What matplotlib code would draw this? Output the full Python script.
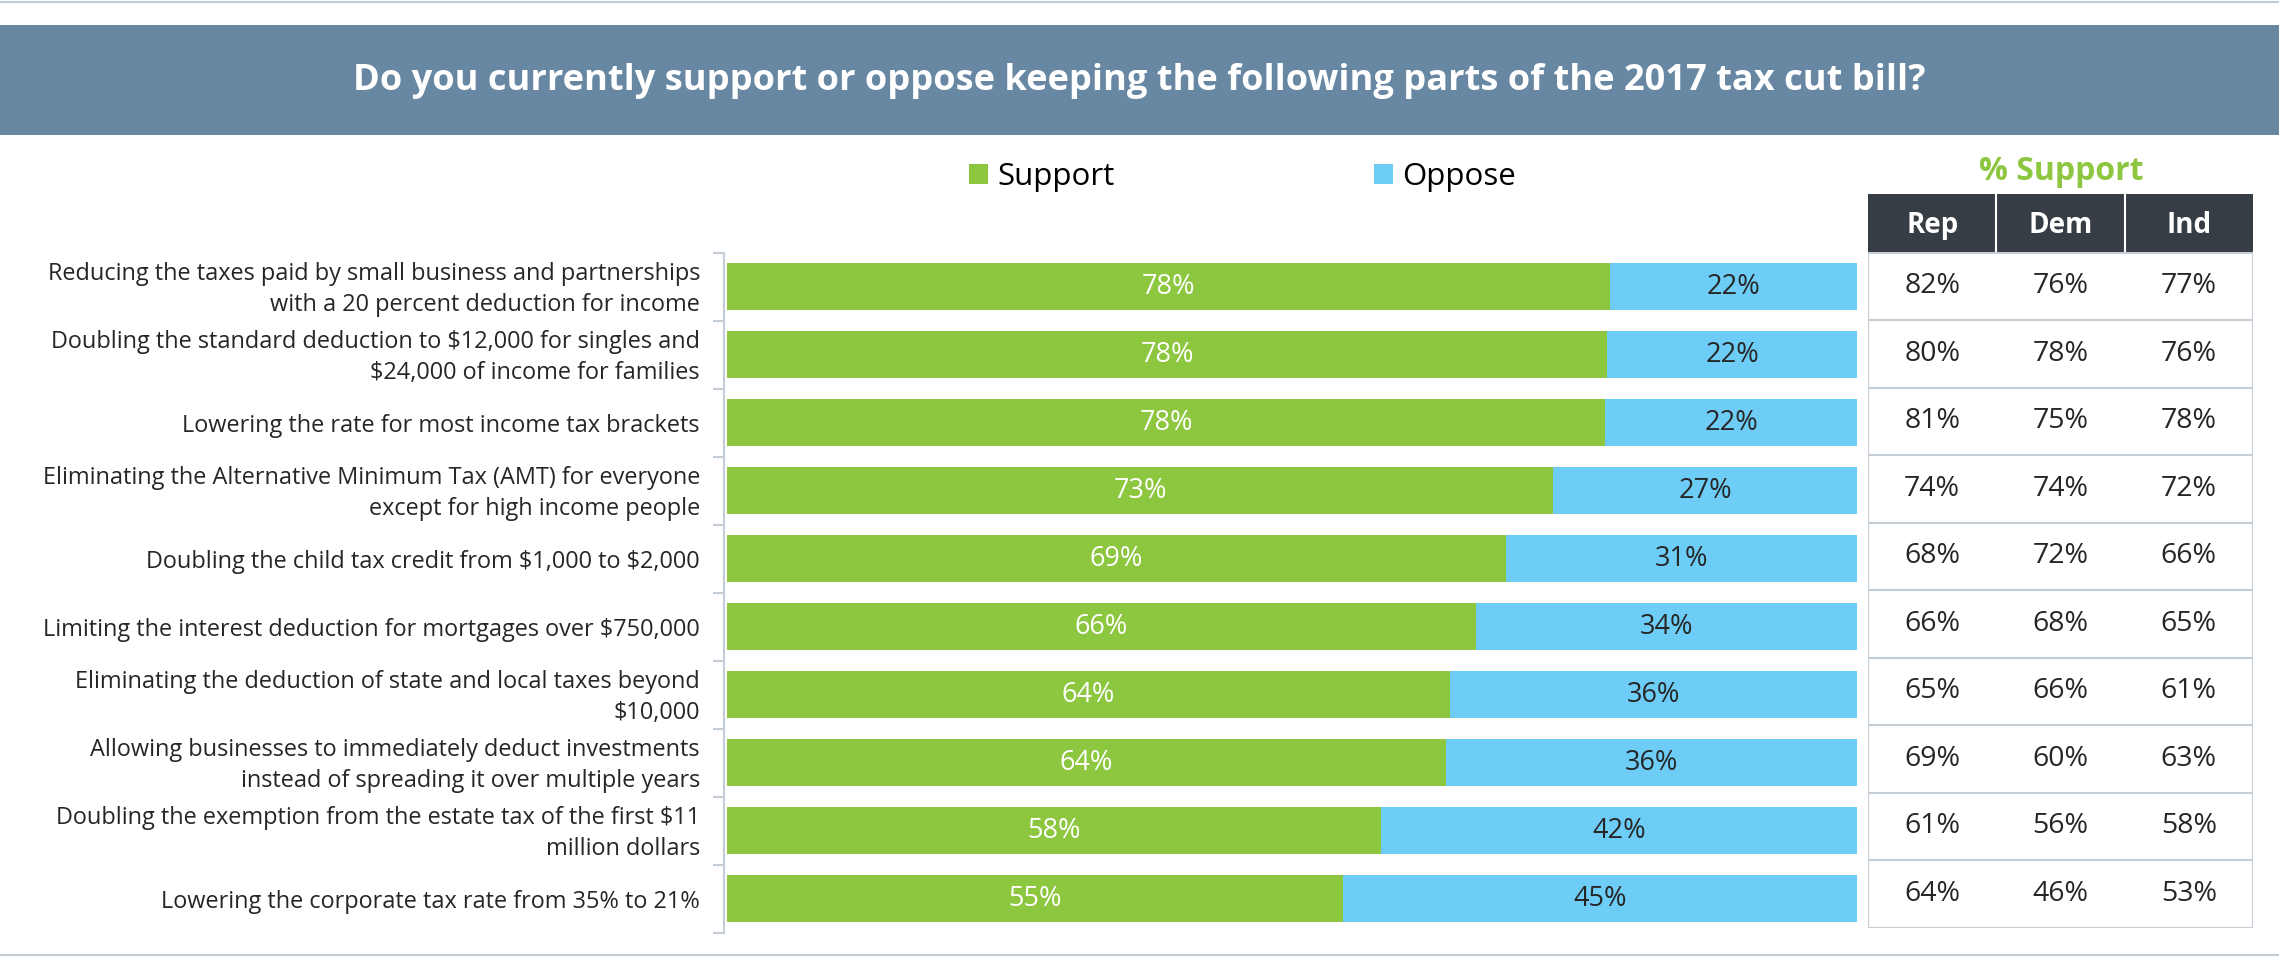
import matplotlib.pyplot as plt
from matplotlib.patches import Rectangle
from matplotlib.lines import Line2D
from matplotlib.transforms import blended_transform_factory, offset_copy

plt.rcParams['font.family'] = ['Open Sans', 'DejaVu Sans']

# data
items = [
    'Reducing the taxes paid by small business and partnerships\nwith a 20 percent deduction for income',
    'Doubling the standard deduction to \\$12,000 for singles and\n\\$24,000 of income for families',
    'Lowering the rate for most income tax brackets',
    'Eliminating the Alternative Minimum Tax (AMT) for everyone\nexcept for high income people',
    'Doubling the child tax credit from \\$1,000 to \\$2,000',
    'Limiting the interest deduction for mortgages over \\$750,000',
    'Eliminating the deduction of state and local taxes beyond\n\\$10,000',
    'Allowing businesses to immediately deduct investments\ninstead of spreading it over multiple years',
    'Doubling the exemption from the estate tax of the first \\$11\nmillion dollars',
    'Lowering the corporate tax rate from 35% to 21%',
]
support = [78.1, 77.9, 77.7, 73.1, 68.9, 66.3, 64.0, 63.6, 57.9, 54.5]
oppose = [21.9, 22.1, 22.3, 26.9, 31.1, 33.7, 36.0, 36.4, 42.1, 45.5]
support_lbl = [78, 78, 78, 73, 69, 66, 64, 64, 58, 55]
oppose_lbl = [22, 22, 22, 27, 31, 34, 36, 36, 42, 45]

parties = ['Rep', 'Dem', 'Ind']
rep = [82, 80, 81, 74, 68, 66, 65, 69, 61, 64]
dem = [76, 78, 75, 74, 72, 68, 66, 60, 56, 46]
ind = [77, 76, 78, 72, 66, 65, 61, 63, 58, 53]

title = 'Do you currently support or oppose keeping the following parts of the 2017 tax cut bill?'

GREEN = '#8DC63F'
BLUE = '#6DCDF6'
BANNER = '#6787A2'
DARK = '#363D45'
TXT = '#262626'
GRID = '#C5CED6'

W, H = 2279, 958
fig = plt.figure(figsize=(W/100, H/100), dpi=100, facecolor='white')

def fx(px):
    return px / W

def fy(py):
    return 1 - py / H

# banner + title
fig.patches.append(Rectangle((0, fy(135)), 1, 110/H, transform=fig.transFigure,
                             facecolor=BANNER, edgecolor='none'))
fig.text(0.5, fy(81), title, color='white', fontsize=26.1, fontweight='bold',
         ha='center', va='center')
fig.add_artist(Line2D([0, 1], [fy(2), fy(2)], color='#C3CDD6', lw=1.5))
fig.add_artist(Line2D([0, 1], [fy(955), fy(955)], color='#C3CDD6', lw=1.5))

# stacked bars
ax = fig.add_axes([fx(727), fy(932.5), 1130/W, 680/H])
y = list(range(len(items)))
b1 = ax.barh(y, support, height=0.685, color=GREEN, label='Support')
b2 = ax.barh(y, oppose, left=support, height=0.685, color=BLUE, label='Oppose')
for i in y:
    ax.text(support[i] / 2, i, f'{support_lbl[i]}%', color='white', fontsize=19.5,
            ha='center', va='center')
    ax.text(support[i] + oppose[i] / 2, i, f'{oppose_lbl[i]}%', color=TXT, fontsize=19.5,
            ha='center', va='center')

# category labels, right aligned left of the axis (nudged down a few px)
trans = offset_copy(blended_transform_factory(ax.transAxes, ax.transData),
                    fig=fig, x=-27, y=-3, units='dots')
for i, lab in enumerate(items):
    ax.text(0, i, lab, transform=trans, fontsize=16.9, color=TXT,
            ha='right', va='center', multialignment='right', linespacing=1.36)

ax.set_xlim(0, 100)
ax.set_ylim(len(items) - 0.5, -0.5)
ax.set_yticks([])
ax.set_yticks([i - 0.5 for i in range(len(items) + 1)], minor=True)
ax.tick_params(axis='y', which='minor', length=8, color=GRID, width=1.5)
ax.set_xticks([])
for s in ['top', 'right', 'bottom']:
    ax.spines[s].set_visible(False)
ax.spines['left'].set_color(GRID)
ax.spines['left'].set_linewidth(1.5)
ax.spines['left'].set_position(('outward', 2))

fig.legend(handles=[b1, b2], loc='center left', bbox_to_anchor=(fx(969), fy(177)),
           ncol=2, frameon=False, fontsize=22.5, handlelength=0.6, handleheight=0.6,
           handletextpad=0.3, columnspacing=8.3, borderpad=0, borderaxespad=0)

# % Support table
fig.text(fx(2061), fy(171), '% Support', color=GREEN, fontsize=23, fontweight='bold',
         ha='center', va='center')
tax = fig.add_axes([fx(1868), fy(927.7), 385/W, 733.7/H])
tax.set_xlim(0, 3)
tax.set_ylim(10, -0.87)
tax.axis('off')
tax.add_patch(Rectangle((0, -0.87), 3, 0.87, facecolor=DARK, edgecolor='none'))
for c in [1, 2]:
    tax.plot([c, c], [-0.87, 0], color='white', lw=1.5)
for j, p in enumerate(parties):
    tax.text(j + 0.5, -0.4, p, color='white', fontsize=20, fontweight='bold',
             ha='center', va='center')
for r in range(11):
    tax.plot([0, 3], [r, r], color=GRID, lw=1.5)
tax.plot([0, 0], [0, 10], color=GRID, lw=1.5)
tax.plot([3, 3], [0, 10], color=GRID, lw=1.5)
for r in range(len(items)):
    for j, col in enumerate([rep, dem, ind]):
        tax.text(j + 0.5, r + 0.5, f'{col[r]}%', color=TXT, fontsize=20.5,
                 ha='center', va='center')

fig.savefig('out.png', dpi=100, facecolor='white')
